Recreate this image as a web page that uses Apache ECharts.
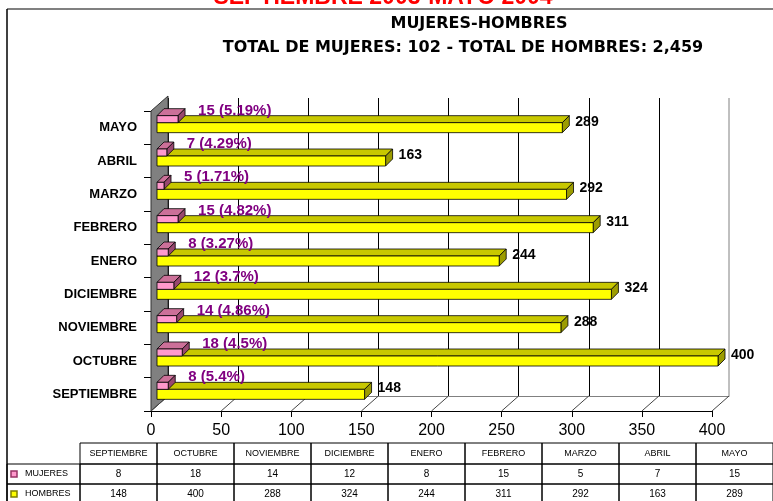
<!DOCTYPE html>
<html>
<head>
<meta charset="utf-8">
<script src="https://cdn.jsdelivr.net/npm/echarts@6/dist/echarts.min.js"></script>
<style>
  html, body { margin: 0; padding: 0; background: #fff; }
  #chart { width: 773px; height: 501px; }
</style>
</head>
<body>
<div id="chart"></div>
<script>
// datos
const months = ['SEPTIEMBRE', 'OCTUBRE', 'NOVIEMBRE', 'DICIEMBRE', 'ENERO', 'FEBRERO', 'MARZO', 'ABRIL', 'MAYO']
const mujeres = [8, 18, 14, 12, 8, 15, 5, 7, 15]
const hombres = [148, 400, 288, 324, 244, 311, 292, 163, 289]
const pctLabels = ['5.4%', '4.5%', '4.86%', '3.7%', '3.27%', '4.82%', '1.71%', '4.29%', '5.19%']
const xTicks = [0, 50, 100, 150, 200, 250, 300, 350, 400]

const FONT = "'Liberation Sans', Arial, sans-serif"
const WIDE = "'DejaVu Sans', sans-serif"
// profundidad 3D
const DEPTH_X = 17, DEPTH_Y = 15
const BAR_OX = 6, BAR_OY = -5
const DX = 7, DY = 7

const chart = echarts.init(document.getElementById('chart'))

function box(x0, x1, yTop, h, c) {
  return [
    { type: 'polygon', shape: { points: [[x0, yTop], [x1, yTop], [x1 + DX, yTop - DY], [x0 + DX, yTop - DY]] },
      style: { fill: c.top, stroke: '#000', lineWidth: 0.8 } },
    { type: 'polygon', shape: { points: [[x1, yTop], [x1 + DX, yTop - DY], [x1 + DX, yTop - DY + h], [x1, yTop + h]] },
      style: { fill: c.side, stroke: '#000', lineWidth: 0.8 } },
    { type: 'rect', shape: { x: x0, y: yTop, width: Math.max(x1 - x0, 0), height: h },
      style: { fill: c.front, stroke: '#000', lineWidth: 0.8 } }
  ]
}

const yellow = { front: '#FFFF00', top: '#C8C800', side: '#9C9C00' }
const pink = { front: '#FF99CC', top: '#CC7099', side: '#99476F' }

// paredes y suelo
function renderFrame(params, api) {
  const cs = params.coordSys
  const x = api.coord([api.value(0), 0])[0]
  const yb = cs.y + cs.height
  const children = [
    { type: 'line', shape: { x1: x, y1: yb, x2: x + DEPTH_X, y2: yb - DEPTH_Y },
      style: { stroke: '#444', lineWidth: 1 } }
  ]
  if (params.dataIndex === 0) {
    children.unshift({
      type: 'polygon',
      shape: { points: [[cs.x, yb], [cs.x, cs.y], [cs.x + DEPTH_X, cs.y - DEPTH_Y], [cs.x + DEPTH_X, yb - DEPTH_Y]] },
      style: { fill: '#808080', stroke: '#333', lineWidth: 1 }
    })
  }
  if (params.dataIndex === xTicks.length - 1) {
    // borde derecho del fondo
    children.push({ type: 'line', shape: { x1: x + DEPTH_X, y1: yb - DEPTH_Y, x2: x + DEPTH_X, y2: cs.y - DEPTH_Y + 2 },
      style: { stroke: '#808080', lineWidth: 1 } })
  }
  return { type: 'group', children }
}

function renderHombres(params, api) {
  const v = api.value(0)
  const p = api.coord([v, api.value(1)])
  const x0 = api.coord([0, api.value(1)])[0] + BAR_OX
  const x1 = p[0] + BAR_OX
  const yd = p[1] + BAR_OY
  const children = box(x0, x1, yd, 10, yellow)
  children.push({
    type: 'text', x: x1 + DX + 6, y: yd - 1,
    style: { text: String(v), fill: '#000', font: 'bold 14px ' + FONT, align: 'left', verticalAlign: 'middle' }
  })
  return { type: 'group', children }
}

function renderMujeres(params, api) {
  const v = api.value(0)
  const i = api.value(1)
  const p = api.coord([v, i])
  const x0 = api.coord([0, i])[0] + BAR_OX
  const x1 = p[0] + BAR_OX
  const yd = p[1] + BAR_OY
  const children = box(x0, x1, yd - 7, 7, pink)
  children.push({
    type: 'text', x: x1 + 20, y: yd - 12,
    style: { text: v + ' (' + pctLabels[i] + ')', fill: '#800080', font: 'bold 15px ' + FONT, align: 'left', verticalAlign: 'middle' }
  })
  return { type: 'group', children }
}

// tabla de datos
const tableEls = []
const colX = 80, colW = 77, rowY = [443, 464, 484], rowH = [21, 20, 20]
const cell = (x, y, w, h) => ({ type: 'rect', shape: { x, y, width: w, height: h }, style: { fill: 'none', stroke: '#000', lineWidth: 1 } })
const txt = (x, y, t, size, align) => ({ type: 'text', x, y, style: { text: t, fill: '#000', font: size + 'px ' + FONT, align: align || 'center', verticalAlign: 'middle' } })
months.forEach((m, i) => {
  const x = colX + i * colW
  tableEls.push(cell(x, rowY[0], colW, rowH[0]), txt(x + colW / 2, rowY[0] + rowH[0] / 2, m, 9))
  tableEls.push(cell(x, rowY[1], colW, rowH[1]), txt(x + colW / 2, rowY[1] + rowH[1] / 2, String(mujeres[i]), 10))
  tableEls.push(cell(x, rowY[2], colW, rowH[2]), txt(x + colW / 2, rowY[2] + rowH[2] / 2, String(hombres[i]), 10))
})
;[['MUJERES', pink], ['HOMBRES', yellow]].forEach(([name, c], k) => {
  const y = rowY[k + 1], h = rowH[k + 1]
  tableEls.push(cell(7, y, colX - 7, h))
  tableEls.push({ type: 'rect', shape: { x: 11, y: y + h / 2 - 3, width: 6, height: 6 }, style: { fill: c.front, stroke: k ? '#808000' : '#993366', lineWidth: 1.5 } })
  tableEls.push(txt(25, y + h / 2, name, 9, 'left'))
})

const option = {
  animation: false,
  graphic: [
    { type: 'text', position: [383, -2], style: { text: 'SEPTIEMBRE 2003-MAYO 2004', fill: '#FF0000', font: 'bold 23px ' + FONT, align: 'center', verticalAlign: 'middle' } },
    { type: 'line', shape: { x1: 7, y1: 9, x2: 773, y2: 9 }, style: { stroke: '#808080', lineWidth: 2 } },
    { type: 'line', shape: { x1: 7, y1: 9, x2: 7, y2: 501 }, style: { stroke: '#000', lineWidth: 1.5 } },
    { type: 'text', position: [479, 24], style: { text: 'MUJERES-HOMBRES', fill: '#000', font: 'bold 16px ' + WIDE, align: 'center', verticalAlign: 'middle' } },
    { type: 'text', position: [463, 48], style: { text: 'TOTAL DE MUJERES: 102 - TOTAL DE HOMBRES: 2,459', fill: '#000', font: 'bold 16px ' + WIDE, align: 'center', verticalAlign: 'middle' } },
    { type: 'group', children: tableEls }
  ],
  grid: [
    { left: 151, right: 61, top: 111, bottom: 90 },
    { left: 168, right: 44, top: 98, bottom: 105 }
  ],
  xAxis: [
    {
      gridIndex: 0, type: 'value', min: 0, max: 400, interval: 50,
      axisLine: { show: true, onZero: false, lineStyle: { color: '#000' } },
      axisTick: { show: true, length: 6, lineStyle: { color: '#000' } },
      axisLabel: { color: '#000', fontSize: 16, fontFamily: FONT, margin: 12 },
      splitLine: { show: false }
    },
    {
      gridIndex: 1, type: 'value', min: 0, max: 400, interval: 50,
      axisLine: { show: true, onZero: false, lineStyle: { color: '#808080' } },
      axisTick: { show: false }, axisLabel: { show: false },
      splitLine: { show: true, showMaxLine: false, lineStyle: { color: '#000', width: 1 } }
    }
  ],
  yAxis: [
    {
      gridIndex: 0, type: 'category', data: months,
      axisLine: { show: true, onZero: false, lineStyle: { color: '#000' } },
      axisTick: { show: true, length: 7, lineStyle: { color: '#000' } },
      axisLabel: { color: '#000', fontSize: 13, fontWeight: 'bold', fontFamily: FONT, margin: 14 },
      splitLine: { show: false }
    },
    {
      gridIndex: 1, type: 'value',
      axisLine: { show: false }, axisTick: { show: false }, axisLabel: { show: false }, splitLine: { show: false }
    }
  ],
  series: [
    { type: 'custom', name: 'frame', xAxisIndex: 0, yAxisIndex: 0, renderItem: renderFrame,
      data: xTicks.map(v => [v]), encode: { x: 0 }, z: 1, silent: true },
    { type: 'custom', name: 'HOMBRES', xAxisIndex: 0, yAxisIndex: 0, renderItem: renderHombres,
      data: hombres.map((v, i) => [v, i]), encode: { x: 0, y: 1 }, z: 3 },
    { type: 'custom', name: 'MUJERES', xAxisIndex: 0, yAxisIndex: 0, renderItem: renderMujeres,
      data: mujeres.map((v, i) => [v, i]), encode: { x: 0, y: 1 }, z: 4 }
  ]
}

chart.setOption(option)
window.addEventListener('resize', () => chart.resize())
</script>
</body>
</html>
